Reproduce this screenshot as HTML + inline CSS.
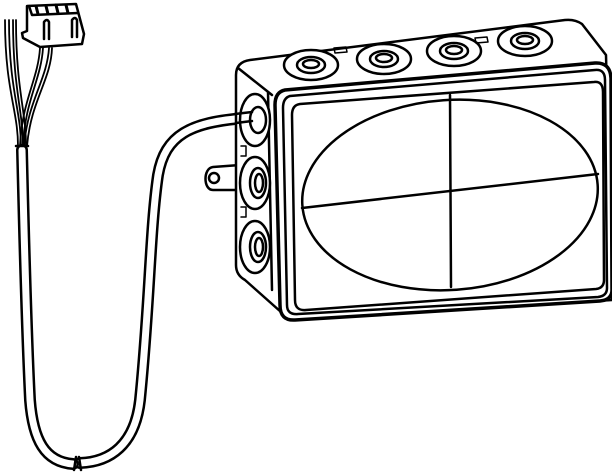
<!DOCTYPE html>
<html><head><meta charset="utf-8"><style>html,body{margin:0;padding:0;background:#fff}svg{display:block}</style></head>
<body>
<svg width="612" height="472" viewBox="0 0 612 472" xmlns="http://www.w3.org/2000/svg" fill="none" stroke="#000" stroke-width="2.5" stroke-linejoin="round" stroke-linecap="round">
<!-- cable -->
<path d="M246,118 C190,122 165,135 158,175 C150,230 150,300 140,400 C135,445 110,462 80,463" stroke-width="12"/>
<path d="M246,118 C190,122 165,135 158,175 C150,230 150,300 140,400 C135,445 110,462 80,463" stroke="#fff" stroke-width="7"/>
<path d="M73,464 C45,462 33,440 30,400 C26,320 24,230 22,150" stroke-width="12"/>
<path d="M73,464 C45,462 33,440 30,400 C26,320 24,230 22,150" stroke="#fff" stroke-width="7"/>
<line x1="76" y1="457" x2="74" y2="470"/>
<line x1="79" y1="457" x2="81" y2="470"/>
<line x1="16" y1="146" x2="28" y2="146"/>
<!-- wires -->
<g stroke-width="1.8">
<path d="M18,146 C18,110 5,90 5,20"/><path d="M21,146 C21,110 9,90 9,20"/>
<path d="M23,146 C23,110 13,90 13,20"/><path d="M26,146 C26,110 16,90 16,20"/>
<path d="M20,146 C22,100 38,80 40,48"/><path d="M23,146 C25,100 41,80 43,48"/>
<path d="M24,146 C28,100 47,80 49,48"/><path d="M27,146 C31,100 51,80 52,48"/>
</g>
<!-- connector -->
<path d="M27,6 L76,4 L84,34 L82,44 L40,47 L23,38 L22,33 L27,31 Z" fill="#fff"/>
<path d="M29,6 L32,15 L78,13"/>
<path d="M36,6 l2,8 M46,6 l2,8 M56,5 l2,8 M66,5 l2,8" stroke-width="3"/>
<path d="M44,39 V22 q3,-4 5,0 V39 M72,37 V20 q3,-4 5,0 V37"/>
<!-- tab -->
<path d="M240,165 L213,167 C203,168 203,190 213,190 L240,190" fill="#fff"/>
<circle cx="214" cy="178" r="5"/>
<!-- box back body -->
<path d="M236,75 Q236,62 250,60 L565,20 Q575,19 582,24 L606,55 L612,300 L290,320 L245,280 Q236,275 236,265 Z" fill="#fff"/>
<path d="M238,68 L272,95"/>
<path d="M268,92 L272,290"/>
<!-- top grommets -->
<g fill="#fff">
<ellipse cx="311" cy="65" rx="27" ry="15"/><ellipse cx="311" cy="65" rx="14" ry="8"/><ellipse cx="311" cy="64" rx="8" ry="4"/>
<ellipse cx="384" cy="59" rx="27" ry="15"/><ellipse cx="384" cy="59" rx="14" ry="8"/><ellipse cx="384" cy="58" rx="8" ry="4"/>
<ellipse cx="454" cy="51" rx="27" ry="15"/><ellipse cx="454" cy="51" rx="14" ry="8"/><ellipse cx="454" cy="50" rx="8" ry="4"/>
<ellipse cx="525" cy="41" rx="27" ry="15"/><ellipse cx="525" cy="41" rx="14" ry="8"/><ellipse cx="525" cy="40" rx="8" ry="4"/>
</g>
<path d="M334,48 l12,-1 l1,5 l-12,1 Z M475,38 l12,-1 l1,5 l-12,1 Z" stroke-width="1.5"/>
<!-- side grommets -->
<g fill="#fff">
<ellipse cx="255" cy="120" rx="15" ry="26"/><ellipse cx="258" cy="120" rx="8" ry="13"/>
<ellipse cx="255" cy="183" rx="15" ry="26"/><ellipse cx="258" cy="183" rx="8" ry="15"/><ellipse cx="259" cy="183" rx="4" ry="9"/>
<ellipse cx="255" cy="247" rx="15" ry="26"/><ellipse cx="258" cy="247" rx="8" ry="15"/><ellipse cx="259" cy="247" rx="4" ry="9"/>
</g>
<path d="M241,146 l5,0 l0,10 l-5,0 M241,207 l5,0 l0,10 l-5,0" stroke-width="1.5"/>
<path d="M235,114 L252,112 M236,123 L252,121"/>
<!-- lid -->
<path d="M285,90 L595,63 Q610,62 611,78 L612,290 Q612,300 600,301 L295,320 Q280,321 280,305 L275,105 Q275,92 285,90 Z" fill="#fff" stroke-width="3.5"/>
<path d="M290,96 L595,70 Q605,69 605,80 L607,288 Q607,296 598,297 L298,314 Q287,315 287,305 L283,108 Q283,98 290,96 Z"/>
<path d="M300,104 L594,82 Q603,81 603,92 L604,280 Q604,288 596,289 L306,310 Q295,311 295,300 L292,115 Q292,105 300,104 Z"/>
<!-- ellipse & cross -->
<ellipse cx="450" cy="195" rx="148" ry="95" transform="rotate(-4 450 195)"/>
<line x1="450" y1="95" x2="451" y2="287"/>
<line x1="302" y1="208" x2="598" y2="174"/>
</svg>
</body></html>
